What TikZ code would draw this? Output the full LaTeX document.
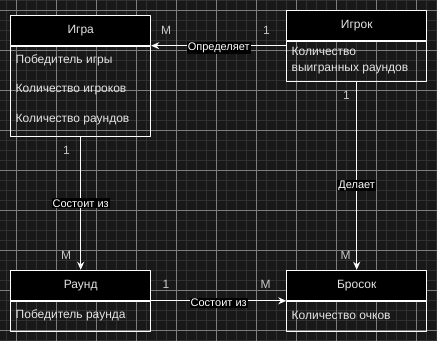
\documentclass[tikz,border=0pt]{standalone}
\usepackage{fontspec}
\setmainfont{Liberation Sans}
\usetikzlibrary{arrows.meta}
\definecolor{bg}{RGB}{24,24,24}
\definecolor{gminor}{RGB}{48,48,48}
\definecolor{gmajor}{RGB}{125,125,125}
\definecolor{txt}{RGB}{228,228,228}
\definecolor{cardtxt}{RGB}{200,200,200}
\begin{document}
\begin{tikzpicture}[x=1pt, y=-1pt, line join=round, >={Stealth[length=8pt,width=7pt]},
	head/.style={draw=white, fill=black, line width=1pt, minimum width=140pt, minimum height=30pt, inner sep=0pt, text=txt, font=\fontsize{12}{14}\selectfont},
	body/.style={draw=white, line width=1pt, minimum width=140pt, inner sep=0pt, anchor=north},
	field/.style={anchor=west, inner sep=0pt, text=txt, align=left, font=\fontsize{12}{15.6}\selectfont},
	rel/.style={draw=white, line width=1pt, ->},
	lbl/.style={fill=black, text=white, inner sep=1pt, font=\fontsize{11}{13}\selectfont},
	card/.style={text=cardtxt, inner sep=0pt, font=\fontsize{12}{14}\selectfont}]
	\def \w{437};
	\def \h{341};
	\useasboundingbox (0,0) rectangle (\w,\h);
	\fill[bg] (0,0) rectangle (\w,\h);
	\foreach \i in {0,...,43}
	\draw[gminor, line width=1pt] ({6.7+10*\i},0) -- ({6.7+10*\i},\h);
	\foreach \j in {0,...,34}
	\draw[gminor, line width=1pt] (0,{0.5+10*\j}) -- (\w,{0.5+10*\j});
	\foreach \i in {0,...,10}
	\draw[gmajor, line width=1pt] ({16.7+40*\i},0) -- ({16.7+40*\i},\h);
	\foreach \j in {0,...,8}
	\draw[gmajor, line width=1pt] (0,{10.5+40*\j}) -- (\w,{10.5+40*\j});
	
	\node[head] (igra) at (80.7,30.2) {Игра};
	\node[body, minimum height=90pt] (igraB) at (igra.south) {};
	\node[field] (igraF1) at (15.5,60) {Победитель игры};
	\node[field] (igraF2) at (15.5,90) {Количество игроков};
	\node[field] (igraF3) at (15.5,120) {Количество раундов};
	
	\node[head] (igrok) at (356.7,25.7) {Игрок};
	\node[body, minimum height=40pt] (igrokB) at (igrok.south) {};
	\node[field] (igrokF1) at (291.5,60.5) {Количество\\выигранных раундов};
	
	\node[head] (raund) at (80.7,285.3) {Раунд};
	\node[body, minimum height=30pt] (raundB) at (raund.south) {};
	\node[field] (raundF1) at (15.5,315.3) {Победитель раунда};
	
	\node[head] (brosok) at (356.7,285.3) {Бросок};
	\node[body, minimum height=30pt] (brosokB) at (brosok.south) {};
	\node[field] (brosokF1) at (291.5,315.3) {Количество очков};
	
	\draw[rel] (igrokB.west |- igra.south east) -- node[lbl, yshift=-2pt] (opr) {Определяет} (igra.south east);
	\draw[rel] (igraB.south) -- node[lbl] (sost1) {Состоит из} (raund.north);
	\draw[rel] (igrokB.south) -- node[lbl, pos=0.55] (del) {Делает} (brosok.north);
	\draw[rel] (raund.south east) -- node[lbl, yshift=-2pt] (sost2) {Состоит из} (brosok.south west);
	
	\node[card] (m1) at (166,30) {M};
	\node[card] (c1) at (266.5,30) {1};
	\node[card] (c2) at (66.5,150) {1};
	\node[card] (m2) at (66,255) {M};
	\node[card] (c3) at (346.5,95) {1};
	\node[card] (m3) at (345.7,255) {M};
	\node[card] (c4) at (166,284.3) {1};
	\node[card] (m4) at (265.7,284.3) {M};
\end{tikzpicture}
\end{document}
